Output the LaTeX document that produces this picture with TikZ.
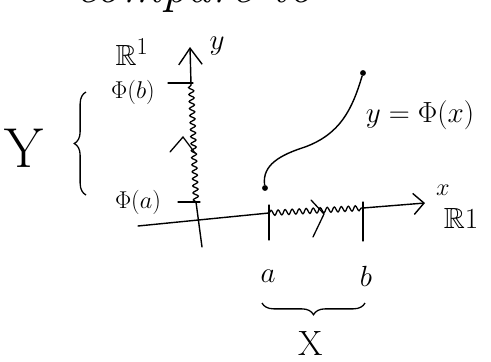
\documentclass[tikz,border=0pt]{standalone}
\usepackage{amsmath,amssymb}
\usetikzlibrary{arrows.meta,positioning,calc,decorations.pathmorphing,decorations.pathreplacing}

\begin{document}
\begin{tikzpicture}[x=0.03cm, y=-0.03cm,
  axis/.style={line width=1.2pt, line cap=round},
  wiggle/.style={line width=1.1pt, decorate,
    decoration={snake, amplitude=2.2pt, segment length=6pt}},
  tick/.style={line width=1.1pt, line cap=round},
  dot/.style={circle, fill=black, inner sep=0pt, minimum size=5pt},
  lbl/.style={inner sep=0pt, font=\huge}]

\useasboundingbox (0,0) rectangle (491,362);

% heading, cut off at the top
\node[anchor=base west, inner sep=0pt, font=\fontsize{44}{44}\selectfont\itshape] (head) at (75,2) {compare to};

% axes
\coordinate (xs) at (138,226);
\coordinate (xa) at (269,213);
\coordinate (xb) at (363,208);
\coordinate (xe) at (425,203);
\coordinate (ys) at (202,247);
\coordinate (ya) at (196,202);
\coordinate (yb) at (191,84);
\coordinate (ye) at (190,47);

\draw[axis] (xs) -- (xa);
\draw[wiggle] (xa) -- (xb);
\draw[axis, -{Straight Barb[length=9pt, width=18pt]}] (xb) -- (xe);
\draw[axis] (ys) -- (ya);
\draw[wiggle] (ya) -- (yb);
\draw[axis, -{Straight Barb[length=14pt, width=20pt]}] (yb) -- (ye);

% ticks
\draw[tick] (269,205) -- (269,240);
\draw[tick] (363,202) -- (363,241);
\draw[tick] (178,202) -- (200,202);
\draw[tick] (168,83) -- (193,83);

% direction marks on the wiggles
\draw[tick] (311,200) -- (324,214) -- (313,237);
\draw[tick] (170,152) -- (183,137) -- (195,153);

% axis labels
\node[lbl, font=\Huge] (rx) at (461,218) {$\mathbb{R}1$};
\node[lbl, font=\huge] (lx) at (443,190) {$x$};
\node[lbl, font=\Huge] (ry) at (132,52) {$\mathbb{R}^1$};
\node[lbl, font=\Huge] (ly) at (217,46) {$y$};
\node[lbl] (phib) at (133,92) {$\Phi(b)$};
\node[lbl] (phia) at (138,202) {$\Phi(a)$};

% graph of the map
\node[dot] (pa) at (265,188) {};
\node[dot] (pb) at (363,73) {};
\coordinate (bend) at (305,147);
\draw[line width=1.2pt] (pa) .. controls (262,165) and (280,155) .. (bend)
  .. controls (340,134) and (352,110) .. (pb);
\node[lbl, font=\Huge] (fx) at (420,115) {$y=\Phi(x)$};

% interval X
\node[lbl, font=\Huge] (a) at (268,276) {$a$};
\node[lbl, font=\Huge] (b) at (366,276) {$b$};
\draw[line width=1.1pt, decorate, decoration={brace, amplitude=10pt}]
  (365,303) -- (262,303);
\node[lbl, font=\fontsize{30}{30}\selectfont] (X) at (311,343) {X};

% image Y
\draw[line width=1.1pt, decorate, decoration={brace, amplitude=10pt}]
  (86,195) -- (86,92);
\node[lbl, font=\fontsize{48}{48}\selectfont] (Y) at (24,148) {Y};

\end{tikzpicture}
\end{document}
